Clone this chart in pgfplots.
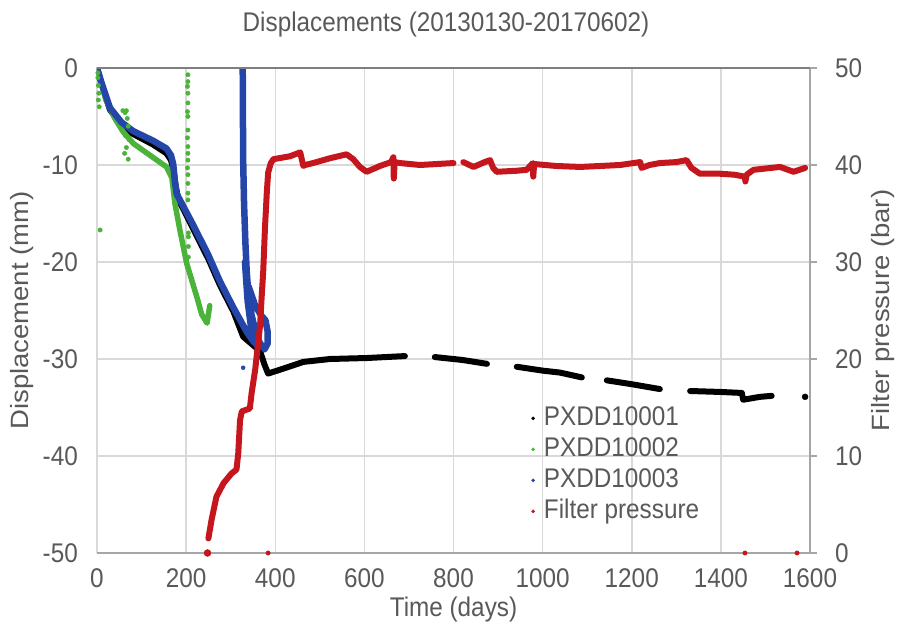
\documentclass[border=0pt]{standalone}
\usepackage{pgfplots}
\pgfplotsset{compat=1.18}
\usepackage{fontspec}
\setmainfont{Liberation Sans}[FakeStretch=0.9]
\newfontfamily\rotfont{Liberation Sans}[FakeStretch=1.1]
\newcommand\f{\fontsize{27}{32}\selectfont}
\newcommand\rf{\rotfont\fontsize{25}{30}\selectfont}
\definecolor{txt}{HTML}{595959}
\definecolor{gridc}{HTML}{D9D9D9}
\definecolor{axc}{HTML}{A6A6A6}
\definecolor{topc}{HTML}{7F7F7F}
\definecolor{pblack}{HTML}{000000}
\definecolor{pgreen}{HTML}{4CB33A}
\definecolor{pblue}{HTML}{2446A8}
\definecolor{pred}{HTML}{C4161C}

\pgfplotstableread{
x y
0 0
10 -1.6
29 -4.3
55 -5.9
81 -6.8
126 -7.9
156 -8.8
166 -9.5
172 -10.6
177 -12.3
183 -13.6
201 -15.2
216 -16.6
250 -19.7
276 -22.4
306 -25.1
328 -27.7
351 -28.6
366 -29.2
376 -30.6
384 -31.5
411 -31.1
463 -30.3
523 -30.0
605 -29.9
691 -29.7
nan nan
758 -29.8
820 -30.1
875 -30.5
nan nan
942 -30.8
1000 -31.2
1039 -31.4
1088 -31.9
nan nan
1144 -32.2
1200 -32.6
1263 -33.1
nan nan
1331 -33.3
1400 -33.4
1447 -33.5
1450 -34.2
1488 -33.9
1514 -33.8
}\blackdata

\pgfplotstableread{
x y
0 0
20 -3.3
40 -5.2
59 -6.6
82 -7.8
119 -9.0
156 -10.2
168 -11.3
175 -14.0
186 -16.7
201 -20.1
224 -23.6
235 -25.4
247 -26.3
253 -24.5
}\greendata

\pgfplotstableread{
x y
2 -0.5
2 -1.0
3 -1.8
4 -2.6
3 -3.3
5 -4.0
7 -16.7
58 -4.4
63 -4.6
66 -4.4
68 -5.2
70 -6.0
64 -7.0
72 -7.4
62 -8.8
70 -9.4
66 -8.2
204 -0.7
204 -1.4
203 -1.9
204 -2.6
204 -3.6
203 -4.5
204 -5.0
204 -6.4
203 -7.2
204 -8.1
204 -8.8
204 -9.5
203 -10.3
204 -11.0
204 -11.9
204 -12.9
204 -13.6
205 -17.0
205 -17.4
205 -18.4
205 -19.5
}\greenpts

\pgfplotstableread{
x y
0 0
10 -1.5
29 -4.1
55 -5.6
81 -6.5
126 -7.5
156 -8.3
166 -9.0
171 -9.9
175 -11.8
179 -13.0
201 -14.9
216 -16.2
250 -19.3
276 -22.0
306 -24.7
336 -27.2
351 -28.2
360 -28.6
nan nan
327 0
327.5 -5
328 -9.5
330 -14
333 -18
336 -21
340 -23.5
347 -25.5
355 -27
365 -28.3
372 -28.8
nan nan
332 -20
338 -24
345 -26.5
352 -27.8
360 -28.6
nan nan
340 -22.5
355 -24.5
368 -25.5
378 -26
383 -27.2
383 -28.4
376 -29.0
}\bluedata

\pgfplotstableread{
x y
250 1.5
257 3.4
268 5.8
284 7.2
302 8.2
313 8.6
317 10.3
321 13.7
325 14.6
343 14.9
347 16.5
355 18.9
360 21
366 23.5
370 26.8
373 29
377 33.6
381 37.1
384 39.2
390 40.2
396 40.6
433 40.9
456 41.3
463 39.9
467 40.0
485 40.2
523 40.7
560 41.1
575 40.6
590 39.8
605 39.3
620 39.6
635 39.9
660 40.3
665 40.8
666 38.6
668 40.3
680 40.2
725 40.0
800 40.2
nan nan
822 40.3
845 39.8
870 40.3
882 40.5
889 39.7
897 39.3
940 39.4
964 39.5
978 40.2
979 38.8
981 40.1
1030 39.9
1084 39.8
1130 39.9
1174 40.0
1219 40.3
1222 39.7
1240 40.0
1263 40.2
1300 40.3
1323 40.5
1334 39.7
1353 39.1
1398 39.1
1430 39.0
1454 38.8
1455 38.3
1458 39.0
1473 39.5
1533 39.8
1563 39.3
1589 39.7
}\reddata

\begin{document}
\begin{tikzpicture}
\useasboundingbox (0,0) rectangle (898pt,631pt);
\begin{axis}[
  at={(97pt,78pt)}, anchor=south west,
  scale only axis, width=713pt, height=485pt,
  xmin=0, xmax=1600, ymin=-50, ymax=0,
  xtick={0,200,...,1600},
  xticklabels={0,200,400,600,800,1000,1200,1400,1600},
  ytick={-50,-40,...,0},
  yticklabels={-50,-40,-30,-20,-10,0},
  grid=major, grid style={draw=gridc, line width=1.5pt},
  axis line style={draw=none},
  major tick style={draw=none},
  tick label style={font=\f, text=txt},
  xticklabel style={anchor=center, yshift=-25pt},
  yticklabel style={anchor=east, inner sep=0pt, xshift=-19pt},
  xlabel={Time (days)},
  ylabel={Displacement (mm)},
  every axis x label/.style={at={(axis description cs:0.5,-0.117)}, anchor=center, font=\f, text=txt},
  every axis y label/.style={at={(axis description cs:-0.105,0.5)}, rotate=90, anchor=center, font=\rf, text=txt},
  every axis title shift=0pt,
  title={Displacements (20130130-20170602)},
  title style={at={(axis description cs:0.4895,1.089)}, anchor=center, font=\f, text=txt},
  unbounded coords=jump,
]
\addplot[pblack, line width=6pt, line cap=round, line join=round, mark=none] table {\blackdata};
\addplot[pblack, only marks, mark=*, mark size=3pt] coordinates {(1589,-33.9)};
\addplot[pgreen, only marks, mark=*, mark size=2.2pt] table {\greenpts};
\addplot[pgreen, line width=5.5pt, line cap=round, line join=round, mark=none] table {\greendata};
\addplot[pblue, line width=6.5pt, line cap=round, line join=round, mark=none] table {\bluedata};
\addplot[pblue, only marks, mark=*, mark size=2pt] coordinates {(328,-30.9)};
\end{axis}
\begin{axis}[
  at={(97pt,78pt)}, anchor=south west,
  scale only axis, width=713pt, height=485pt,
  xmin=0, xmax=1600, ymin=0, ymax=50,
  axis x line=none,
  axis y line*=right,
  y axis line style={draw=axc, line width=2pt, -},
  ytick={0,10,...,50},
  yticklabels={0,10,20,30,40,50},
  tick align=outside,
  major tick length=7pt,
  major tick style={draw=axc, line width=1.5pt},
  tick label style={font=\f, text=txt},
  yticklabel style={anchor=west, inner sep=0pt, xshift=18pt},
  ylabel={Filter pressure (bar)},
  every axis y label/.style={at={(axis description cs:1.102,0.5)}, rotate=90, anchor=center, font=\rf, text=txt},
  clip=false,
  unbounded coords=jump,
  legend style={at={(axis description cs:0.6,0.31)}, anchor=north west, draw=none, fill=none,
    font=\f, text=txt, inner sep=0pt, row sep=0pt,
    nodes={text height=20pt, text depth=6pt, inner sep=2.5pt}},
  legend cell align=left,
  legend image code/.code={\path (0pt,0pt) (16pt,0pt); \fill (8pt,0pt) circle (1.6pt);},
]
\draw[axc, line width=2pt] (rel axis cs:0,0) -- (rel axis cs:1,0);
\draw[topc, line width=2.5pt] (rel axis cs:0,1) -- (rel axis cs:1,1);
\addlegendimage{pblack}
\addlegendentry{PXDD10001}
\addlegendimage{pgreen}
\addlegendentry{PXDD10002}
\addlegendimage{pblue}
\addlegendentry{PXDD10003}
\addlegendimage{pred}
\addlegendentry{Filter pressure}
\addplot[pred, line width=6pt, line cap=round, line join=round, mark=none, forget plot] table {\reddata};
\addplot[pred, only marks, mark=*, mark size=2.2pt, forget plot] coordinates {(384,0) (1454,0) (1571,0)};
\addplot[pred, only marks, mark=*, mark size=3.5pt, forget plot] coordinates {(248,0)};
\end{axis}
\end{tikzpicture}
\end{document}
